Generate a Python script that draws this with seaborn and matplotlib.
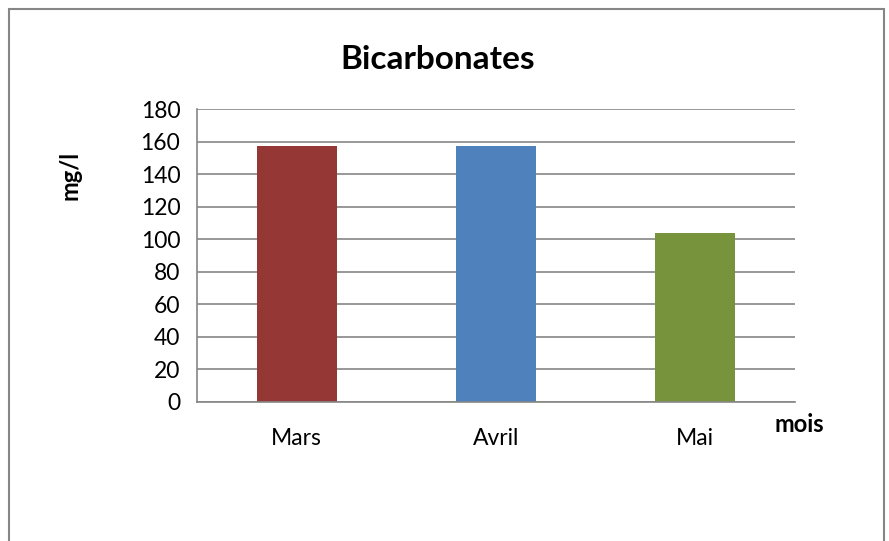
import matplotlib
matplotlib.use("Agg")
import matplotlib.pyplot as plt
import seaborn as sns
import pandas as pd
from matplotlib.patches import Rectangle

# --- données ---
mois = ["Mars", "Avril", "Mai"]
bicarbonates = [157, 157, 104]
couleurs = ["#953735", "#4F81BD", "#77933C"]
yticks = [0, 20, 40, 60, 80, 100, 120, 140, 160, 180]

df = pd.DataFrame({"mois": mois, "valeur": bicarbonates})

sns.set_style("white")
plt.rcParams["font.family"] = ["Lato", "DejaVu Sans"]
plt.rcParams["text.color"] = "black"
plt.rcParams["xtick.color"] = "black"
plt.rcParams["ytick.color"] = "black"

fig = plt.figure(figsize=(8.89, 5.41), dpi=100)
ax = fig.add_axes([0.2216, 0.257, 0.6725, 0.5415])

sns.barplot(data=df, x="mois", y="valeur", hue="mois", palette=couleurs,
            width=0.4, legend=False, ax=ax, saturation=1, linewidth=0)

ax.set_ylim(0, 180)
ax.set_yticks(yticks)
ax.set_xlim(-0.5, 2.5)
ax.yaxis.grid(True, color="#868686", linewidth=1.2)
ax.set_axisbelow(True)
for s in ["top", "right"]:
    ax.spines[s].set_visible(False)
ax.spines["left"].set_color("#868686")
ax.spines["bottom"].set_color("#868686")
ax.spines["left"].set_linewidth(1.2)
ax.spines["bottom"].set_linewidth(1.2)
ax.tick_params(axis="y", length=5, color="#868686", labelsize=16.5,
               pad=7, labelcolor="black")
ax.tick_params(axis="x", length=0, labelsize=16.5, pad=19, labelcolor="black")
ax.set_xlabel("")
ax.set_ylabel("")

fig.text(0.492, 0.89, "Bicarbonates", ha="center", va="center",
         fontsize=24, fontweight="bold")
fig.text(0.079, 0.675, "mg/l", ha="center", va="center", rotation=90,
         fontsize=17, fontweight="bold")
fig.text(0.871, 0.215, "mois", ha="left", va="center",
         fontsize=17, fontweight="bold")

# cadre du graphique
fig.patches.append(Rectangle((9 / 889, -0.05), 875 / 889, 1 - 9 / 541 + 0.05,
                             transform=fig.transFigure, fill=False,
                             edgecolor="#868686", linewidth=1.5))

fig.savefig("out.png", dpi=100)
